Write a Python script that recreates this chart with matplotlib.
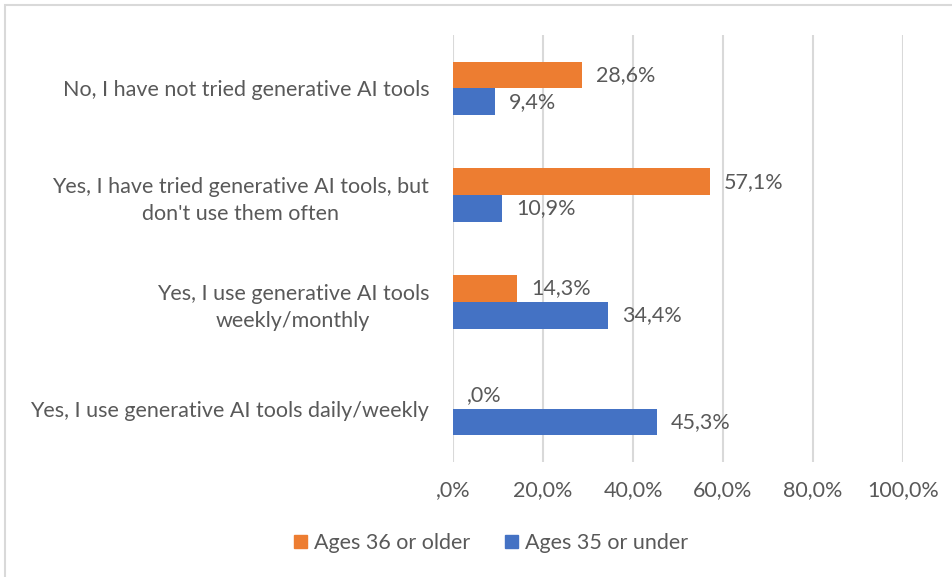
import numpy as np
import matplotlib
matplotlib.use("Agg")
from matplotlib import pyplot as plt
from matplotlib.patches import Patch, Rectangle

# categories bottom to top, as drawn
categories = [
    "Yes, I use generative AI tools daily/weekly",
    "Yes, I use generative AI tools\nweekly/monthly",
    "Yes, I have tried generative AI tools, but\ndon't use them often",
    "No, I have not tried generative AI tools",
]
ages_36_or_older = [0.0, 14.3, 57.1, 28.6]
ages_35_or_under = [45.3, 34.4, 10.9, 9.4]
x_ticks = [0, 20, 40, 60, 80, 100]

ORANGE = "#ED7D31"
BLUE = "#4472C4"
TEXT = "#595959"
GRID = "#D9D9D9"
FS = 15.5

plt.rcParams["font.family"] = ["Lato", "DejaVu Sans"]
plt.rcParams["font.size"] = FS


def pct(v):
    """Excel style percent label with comma and no leading zero"""
    s = f"{v:.1f}".replace(".", ",")
    if s.startswith("0"):
        s = s[1:]
    return s + "%"


fig = plt.figure(figsize=(9.52, 5.77), dpi=100)
ax = fig.add_axes([453 / 952, 1 - 462 / 577, 450 / 952, 427 / 577])

y = np.arange(len(categories))
h = 0.25
ax.barh(y + h / 2, ages_36_or_older, height=h, color=ORANGE, zorder=3)
ax.barh(y - h / 2, ages_35_or_under, height=h, color=BLUE, zorder=3)

for i in range(len(categories)):
    ax.annotate(pct(ages_36_or_older[i]), (ages_36_or_older[i], y[i] + h / 2),
                xytext=(10, 0), textcoords="offset points", va="center",
                color=TEXT, fontsize=FS)
    ax.annotate(pct(ages_35_or_under[i]), (ages_35_or_under[i], y[i] - h / 2),
                xytext=(10, 0), textcoords="offset points", va="center",
                color=TEXT, fontsize=FS)

ax.set_xlim(0, 100)
ax.set_ylim(-0.5, len(categories) - 0.5)
ax.set_xticks(x_ticks)
ax.set_xticklabels([pct(t) for t in x_ticks])
ax.set_yticks(y)
ax.set_yticklabels(categories, multialignment="center", linespacing=1.45)
ax.tick_params(axis="both", length=0, colors=TEXT, labelsize=FS)
ax.tick_params(axis="y", pad=17)
ax.tick_params(axis="x", pad=13)
ax.grid(axis="x", color=GRID, linewidth=1.5, zorder=0)
for s in ax.spines.values():
    s.set_visible(False)

handles = [Patch(color=ORANGE, label="Ages 36 or older"),
           Patch(color=BLUE, label="Ages 35 or under")]
fig.legend(handles=handles, loc="center", bbox_to_anchor=(491 / 952, 1 - 543 / 577),
           ncol=2, frameon=False, handlelength=0.6, handleheight=0.6,
           handletextpad=0.33, columnspacing=1.6, labelcolor=TEXT, fontsize=FS)

# chart area border (left and top visible)
fig.patches.append(Rectangle((5 / 952, -0.01), 1.1, 1 - 5 / 577 + 0.01,
                             transform=fig.transFigure, fill=False,
                             edgecolor=GRID, linewidth=1.5))

fig.savefig("out.png", dpi=100)
